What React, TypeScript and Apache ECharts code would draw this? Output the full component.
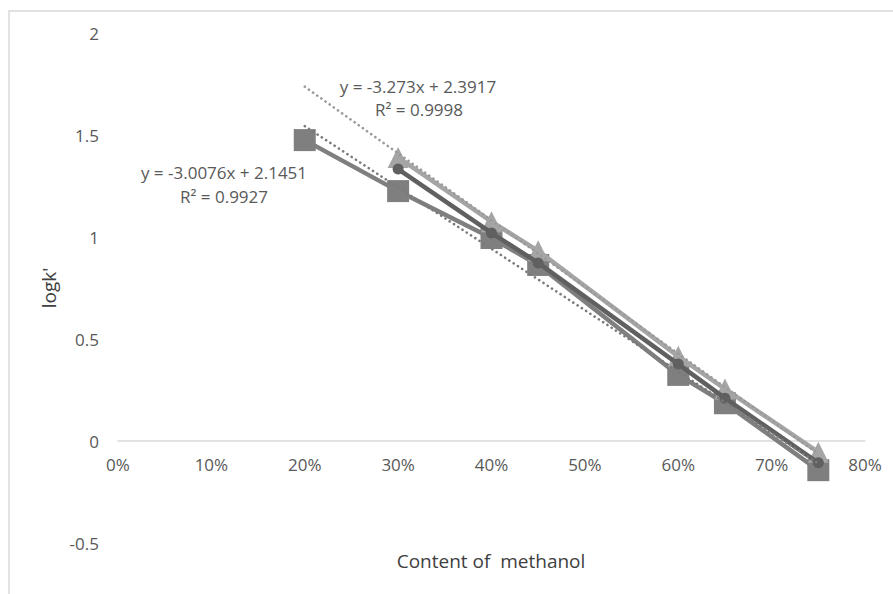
import React, { useEffect, useRef } from "react";
import * as echarts from "echarts";

// Methanol content (fraction)
const xSquare = [0.2, 0.3, 0.4, 0.45, 0.6, 0.65, 0.75];
const ySquare = [1.475, 1.225, 0.995, 0.863, 0.324, 0.185, -0.143];
const xCircle = [0.3, 0.4, 0.45, 0.6, 0.65, 0.75];
const yCircle = [1.333, 1.02, 0.873, 0.377, 0.21, -0.107];
const xTriangle = [0.3, 0.4, 0.45, 0.6, 0.65, 0.75];
const yTriangle = [1.39, 1.075, 0.932, 0.415, 0.255, -0.055];

// Trendlines: slope, intercept, x range
const trendSlopes = [-3.273, -3.0076];
const trendIntercepts = [2.3917, 2.1451];
const trendRange = [0.2, 0.75];
const trendLabels = [
  ["y = -3.273x + 2.3917", "R\u00B2 = 0.9998"],
  ["y = -3.0076x + 2.1451", "R\u00B2 = 0.9927"],
];

const xTicks = [0, 0.1, 0.2, 0.3, 0.4, 0.5, 0.6, 0.7, 0.8];
const yTicks = [-0.5, 0, 0.5, 1, 1.5, 2];

const FONT = "'Open Sans', sans-serif";

function pairs(xs: number[], ys: number[]) {
  return xs.map((x, i) => [x, ys[i]]);
}

function trendData(i: number) {
  return trendRange.map((x) => [x, trendSlopes[i] * x + trendIntercepts[i]]);
}

const GRID_TOP = 33;
const GRID_BOTTOM = 51;
const H = 594;

export default function App() {
  const ref = useRef<HTMLDivElement>(null);
  useEffect(() => {
    if (!ref.current) return;
    const chart = echarts.init(ref.current, undefined, { renderer: "svg" });
    const dotted = (color: string) => ({
      color,
      width: 2.6,
      type: [0.1, 5] as any,
      cap: "round" as const,
    });
    const yMin = yTicks[0];
    const yMax = yTicks[yTicks.length - 1];
    const plotH = H - GRID_TOP - GRID_BOTTOM;
    // shift x-axis up to the y = 0 line
    const zeroOffset = -((0 - yMin) / (yMax - yMin)) * plotH;
    chart.setOption({
      animation: false,
      backgroundColor: "#ffffff",
      textStyle: { fontFamily: FONT },
      grid: { left: 118, right: 28, top: GRID_TOP, bottom: GRID_BOTTOM },
      xAxis: {
        type: "value",
        position: "bottom",
        offset: zeroOffset,
        min: xTicks[0],
        max: xTicks[xTicks.length - 1],
        interval: 0.1,
        axisLine: { onZero: false, lineStyle: { color: "#d9d9d9", width: 1.5 } },
        axisTick: { show: false },
        splitLine: { show: false },
        axisLabel: {
          color: "#595959",
          fontSize: 17,
          fontFamily: FONT,
          margin: 15,
          formatter: (v: number) => Math.round(v * 100) + "%",
        },
      },
      yAxis: {
        type: "value",
        min: yMin,
        max: yMax,
        interval: 0.5,
        axisLine: { show: false },
        axisTick: { show: false },
        splitLine: { show: false },
        axisLabel: {
          color: "#595959",
          fontSize: 17,
          fontFamily: FONT,
          margin: 19,
        },
      },
      graphic: [
        {
          type: "rect",
          shape: { x: 9, y: 11, width: 1000, height: 1000 },
          style: { fill: "none", stroke: "#d9d9d9", lineWidth: 1.5 },
          silent: true,
          z: -10,
        },
        {
          type: "text",
          x: 418,
          y: 86,
          style: {
            text: trendLabels[0][0],
            fill: "#595959",
            font: `17px ${FONT}`,
            align: "center",
            verticalAlign: "middle",
          },
        },
        {
          type: "text",
          x: 419,
          y: 109,
          style: {
            text: trendLabels[0][1],
            fill: "#595959",
            font: `17px ${FONT}`,
            align: "center",
            verticalAlign: "middle",
          },
        },
        {
          type: "text",
          x: 224,
          y: 172,
          style: {
            text: trendLabels[1][0],
            fill: "#595959",
            font: `17px ${FONT}`,
            align: "center",
            verticalAlign: "middle",
          },
        },
        {
          type: "text",
          x: 224,
          y: 196,
          style: {
            text: trendLabels[1][1],
            fill: "#595959",
            font: `17px ${FONT}`,
            align: "center",
            verticalAlign: "middle",
          },
        },
        {
          type: "text",
          x: 491,
          y: 561,
          style: {
            text: "Content of  methanol",
            fill: "#404040",
            font: `19px ${FONT}`,
            align: "center",
            verticalAlign: "middle",
          },
        },
        {
          type: "text",
          x: 49,
          y: 288,
          rotation: Math.PI / 2,
          style: {
            text: "logk'",
            fill: "#404040",
            font: `19px ${FONT}`,
            align: "center",
            verticalAlign: "middle",
          },
        },
      ],
      series: [
        {
          name: "square",
          type: "line",
          data: pairs(xSquare, ySquare),
          symbol: "rect",
          symbolSize: 22,
          showAllSymbol: true,
          lineStyle: { color: "#7f7f7f", width: 4.5 },
          itemStyle: { color: "#7f7f7f" },
          z: 2,
        },
        {
          name: "triangle",
          type: "line",
          data: pairs(xTriangle, yTriangle),
          symbol: "triangle",
          symbolSize: 21,
          lineStyle: { color: "#a5a5a5", width: 4.5 },
          itemStyle: { color: "#a5a5a5" },
          z: 3,
        },
        {
          name: "circle",
          type: "line",
          data: pairs(xCircle, yCircle),
          symbol: "circle",
          symbolSize: 11,
          lineStyle: { color: "#606060", width: 4.5 },
          itemStyle: { color: "#606060" },
          z: 4,
        },
        {
          name: "trend-triangle",
          type: "line",
          data: trendData(0),
          symbol: "none",
          lineStyle: dotted("#9a9a9a"),
          z: 5,
        },
        {
          name: "trend-square",
          type: "line",
          data: trendData(1),
          symbol: "none",
          lineStyle: dotted("#7a7a7a"),
          z: 5,
        },
      ],
    });
    return () => chart.dispose();
  }, []);
  return (
    <div
      ref={ref}
      style={{ position: "absolute", left: 0, top: 0, width: 893, height: 594 }}
    />
  );
}
